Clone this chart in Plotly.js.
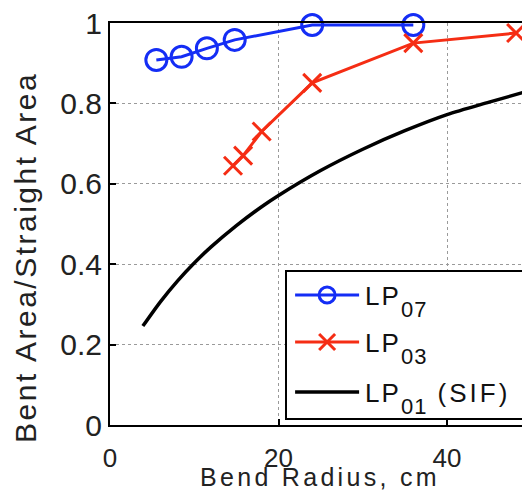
<!DOCTYPE html>
<html><head><meta charset="utf-8">
<script src="https://cdn.plot.ly/plotly-3.0.1.min.js"></script>
<style>body{margin:0;background:#fff}</style>
</head><body>
<div id="chart" style="width:522px;height:492px"></div>
<script>
const seriesLabels = ['LP', 'LP', 'LP'];
const seriesSubs = ['07', '03', '01'];
const seriesSuffix = ['', '', '(SIF)'];
const lp07Radius = [5.5, 8.5, 11.5, 14.8, 24, 36];
const lp07Ratio  = [0.908, 0.916, 0.937, 0.958, 0.995, 0.995];
const lp03Radius = [14.6, 15.8, 18, 24, 36, 48.2];
const lp03Ratio  = [0.645, 0.67, 0.73, 0.851, 0.95, 0.975];
const lp01Radius = [3.9, 6, 8, 10, 12, 15, 18, 20, 25, 30, 35, 40, 45, 49];
const lp01Ratio  = [0.246, 0.307, 0.358, 0.403, 0.443, 0.496, 0.543, 0.571, 0.633, 0.686, 0.732, 0.772, 0.803, 0.827];
const xTicks = [0, 20, 40];
const xTickText = ['0', '20', '40'];
const yTicks = [0, 0.2, 0.4, 0.6, 0.8, 1];
const yTickText = ['0', '0.2', '0.4', '0.6', '0.8', '1'];
const xTitle = 'Bend Radius, cm';
const yTitle = 'Bent Area/Straight Area';

const FONT = 'Liberation Sans, Arial, sans-serif';
const BLUE = 'rgb(20,45,245)';
const RED = 'rgb(245,45,20)';

function legendName(i) {
  let s = '<span style="letter-spacing:2px">' + seriesLabels[i] + '</span>' +
          '<sub><span style="font-size:22px;letter-spacing:1px;baseline-shift:-6px">' + seriesSubs[i] + '</span></sub>';
  if (seriesSuffix[i]) s += '<span style="letter-spacing:3px"> ' + seriesSuffix[i] + '</span>';
  return s;
}

const traces = [
  {x: lp07Radius, y: lp07Ratio, name: legendName(0), legendgroup: 'a', mode: 'lines+markers', cliponaxis: false,
   line: {color: BLUE, width: 3},
   marker: {symbol: 'circle-open', size: 21, color: BLUE, line: {width: 3, color: BLUE}}},
  {x: lp03Radius, y: lp03Ratio, name: legendName(1), legendgroup: 'b', mode: 'lines+markers', cliponaxis: false,
   line: {color: RED, width: 3},
   marker: {symbol: 'x-thin-open', size: 18, color: RED, line: {width: 3, color: RED}}},
  {x: lp01Radius, y: lp01Ratio, name: legendName(2), legendgroup: 'c', mode: 'lines',
   line: {color: 'black', width: 3.5, shape: 'spline', smoothing: 0.8}}
];

const axisCommon = {
  showline: true, linecolor: 'black', linewidth: 2,
  ticks: 'inside', ticklen: 6, tickwidth: 2, tickcolor: 'black',
  showgrid: true, gridcolor: '#9a9a9a', gridwidth: 1, griddash: 'dot',
  zeroline: false
};

const layout = {
  width: 522, height: 492,
  margin: {l: 110, r: 0, t: 23, b: 67},
  paper_bgcolor: 'white', plot_bgcolor: 'white',
  showlegend: true,
  xaxis: Object.assign({}, axisCommon, {range: [0, 48.9], tickvals: xTicks, ticktext: xTickText, mirror: true,
    ticklabelstandoff: 9, tickfont: {family: FONT, size: 26, color: '#222'}}),
  yaxis: Object.assign({}, axisCommon, {range: [0, 1], tickvals: yTicks, ticktext: yTickText, mirror: false,
    tickfont: {family: FONT, size: 30, color: '#222'}}),
  legend: {x: 0.425, y: 0.386, xanchor: 'left', yanchor: 'top', bgcolor: 'white',
           bordercolor: 'black', borderwidth: 2, tracegroupgap: 10,
           font: {family: FONT, size: 26, color: '#111'}},
  annotations: [
    {text: '<span style="letter-spacing:3.3px">' + xTitle + '</span>', xref: 'paper', yref: 'paper',
     x: 0.51, y: -0.1667, xanchor: 'center', yanchor: 'bottom', borderpad: 0,
     showarrow: false, font: {family: FONT, size: 25, color: '#222'}},
    {text: '<span style="letter-spacing:2.5px">' + yTitle + '</span>', xref: 'paper', yref: 'paper',
     x: -0.204, y: 0.418, xanchor: 'center', yanchor: 'middle',
     textangle: -90, showarrow: false, font: {family: FONT, size: 30, color: '#222'}}
  ]
};

const rowCenters = [295, 342, 392];   // legend row centers (page px)
const legendBottom = 419;

Plotly.newPlot('chart', traces, layout, {staticPlot: true}).then(function (gd) {
  const items = gd.querySelectorAll('.legend .traces');
  const svgTop = gd.querySelector('.main-svg').getBoundingClientRect().top;
  items.forEach(function (g, i) {
    g.querySelectorAll('.legendlines path').forEach(function (p) { p.setAttribute('d', 'M8,0h64'); });
    g.querySelectorAll('.legendpoints path').forEach(function (p) { p.setAttribute('transform', 'translate(40,0)'); });
    g.querySelectorAll('text.legendtext').forEach(function (t) { t.setAttribute('x', '78'); });
    const tr = g.getAttribute('transform') || '';
    const m = tr.match(/translate\(\s*([-\d.]+)[ ,]+([-\d.]+)\s*\)/);
    const lineEl = g.querySelector('.legendlines path');
    if (m && lineEl) {
      const tx = parseFloat(m[1]), ty = parseFloat(m[2]);
      const r = lineEl.getBoundingClientRect();
      const absY = (r.top + r.bottom) / 2 - svgTop;
      g.setAttribute('transform', 'translate(' + tx + ',' + (ty + rowCenters[i] - absY) + ')');
    }
  });
  const lg = gd.querySelector('.legend');
  if (lg) {
    lg.removeAttribute('clip-path');
    lg.querySelectorAll('[clip-path]').forEach(function (e) { e.removeAttribute('clip-path'); });
    const bg = lg.querySelector('rect.bg');
    if (bg) {
      bg.setAttribute('width', '400');
      const r = bg.getBoundingClientRect();
      const top = r.top - svgTop;
      const h = parseFloat(bg.getAttribute('height'));
      bg.setAttribute('height', String(h + (legendBottom - (top + r.height))));
    }
  }
});
</script>
</body></html>
